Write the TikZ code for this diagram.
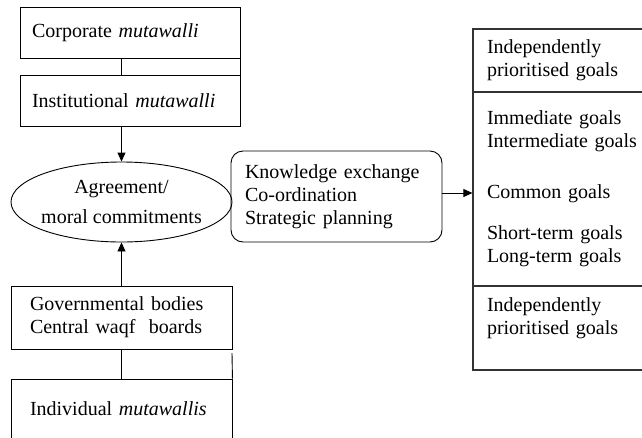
\documentclass[tikz,border=0pt]{standalone}
\usepackage{fontspec}
\setmainfont{Liberation Serif}
\usetikzlibrary{arrows.meta,shapes.geometric}
\begin{document}
\begin{tikzpicture}[x=1pt,y=-1pt,
  txt/.style={font=\fontsize{20}{23}\selectfont},
  box/.style={txt, draw, line width=0.9pt, rectangle, inner ysep=0pt, align=left},
  gbox/.style={txt, draw=black!80, line width=1.2pt, rectangle, inner ysep=0pt, inner xsep=14pt,
    text width=159pt, align=left},
  ln/.style={line width=0.9pt},
  arr/.style={line width=0.9pt, -{Triangle[length=9pt,width=8pt]}}]
\useasboundingbox (0,0) rectangle (642,437);
\clip (0,0) rectangle (642,437);

% left column
\node[box, inner xsep=12pt, text width=196pt, minimum height=51pt] (corp) at (130,32.5) {Corporate \textit{mutawalli}};
\node[box, inner xsep=12pt, text width=196pt, minimum height=51pt] (inst) at (130,100.5) {Institutional \textit{mutawalli}};
\node[txt, draw, line width=0.9pt, ellipse, inner sep=0pt, minimum width=221pt, minimum height=80pt, align=center] (ell) at (121.5,202)
  {\makebox[0pt]{Agreement/}\\[7pt]\makebox[0pt]{moral commitments}};
\node[box, inner xsep=19pt, text width=183pt, minimum height=63pt] (gov) at (121.5,317.5) {Governmental bodies\\Central waqf~ boards};
\node[box, inner xsep=19pt, text width=183pt, minimum height=60pt] (ind) at (121.5,409) {Individual \textit{mutawallis}};
\coordinate (gapc) at (232,353);

% middle
\node[box, rounded corners=12pt, inner xsep=14pt, text width=183pt, minimum height=91pt] (rbox) at (336.5,196.5)
  {Knowledge exchange\\Co-ordination\\Strategic planning};

% right column
\node[gbox, minimum height=63pt] (s1) at (566.5,60.5) {Independently\\prioritised goals};
\node[gbox, minimum height=194pt] (s2) at (566.5,189)
  {Immediate goals\\Intermediate goals\\[28pt]Common goals\\[18pt]Short-term goals\\Long-term goals};
\node[gbox, minimum height=84pt] (s3) at (566.5,328) {Independently\\prioritised goals\\\mbox{}};

% connectors
\draw[ln] (corp.south -| ell.north) -- (inst.north -| ell.north);
\draw[ln] (corp.south east) -- (inst.north east);
\draw[arr] (inst.south -| ell.north) -- (ell.north);
\draw[arr] (gov.north) -- (ell.south);
\draw[ln] (gov.south) -- (ind.north);
\draw[ln] (ind.north east) -- (gapc);
\draw[arr] ([yshift=3.5pt]rbox.east) -- ([yshift=3.5pt]rbox.east -| s2.west);
\end{tikzpicture}
\end{document}
